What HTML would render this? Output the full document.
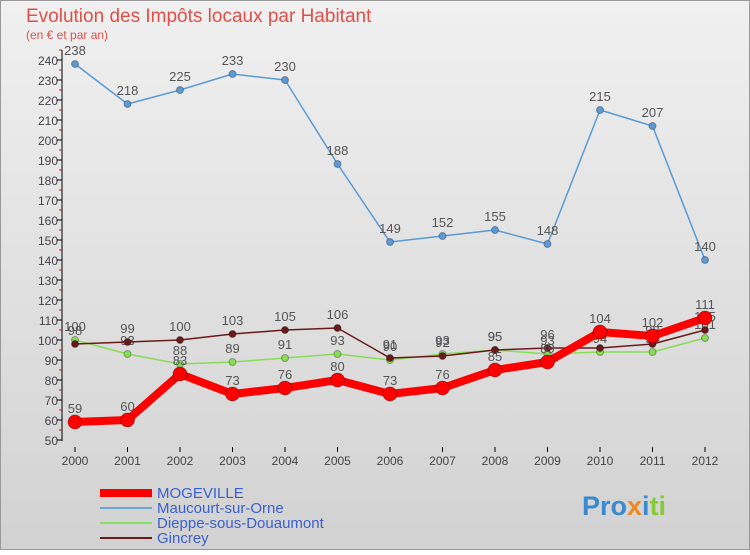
<!DOCTYPE html>
<html><head><meta charset="utf-8"><style>
body{margin:0;width:750px;height:550px;overflow:hidden;font-family:"Liberation Sans",sans-serif}
svg text{font-family:"Liberation Sans",sans-serif}
</style></head><body>
<svg id="c" width="750" height="550" xmlns="http://www.w3.org/2000/svg">
<defs><linearGradient id="bg" x1="0" y1="0" x2="0" y2="1"><stop offset="0" stop-color="#f0f0f0"/><stop offset="1" stop-color="#d2d2d2"/></linearGradient></defs>
<rect x="0.5" y="0.5" width="749" height="549" fill="url(#bg)" stroke="#999"/>
<text x="26" y="22" font-size="19" fill="#e0504a">Evolution des Impôts locaux par Habitant</text>
<text x="26" y="39" font-size="12" fill="#e0504a">(en € et par an)</text>
<g id="axes"></g><g id="series"></g>
<g>
<rect x="100" y="489" width="52" height="8" fill="#ff0000"/><text x="157" y="498" font-size="15" fill="#3a60d0">MOGEVILLE</text>
<line x1="100" y1="508" x2="152" y2="508" stroke="#6aa6d6" stroke-width="2"/><text x="157" y="513" font-size="15" fill="#3a60d0">Maucourt-sur-Orne</text>
<line x1="100" y1="523" x2="152" y2="523" stroke="#88dd66" stroke-width="2"/><text x="157" y="528" font-size="15" fill="#3a60d0">Dieppe-sous-Douaumont</text>
<line x1="100" y1="538" x2="152" y2="538" stroke="#6a1a1a" stroke-width="2"/><text x="157" y="543" font-size="15" fill="#3a60d0">Gincrey</text>
</g>
<text x="582" y="515" font-size="27" font-weight="bold" fill="#3a8ad0">Pro<tspan fill="#f08a20">x</tspan><tspan fill="#3a8ad0">i</tspan><tspan fill="#88cc33">ti</tspan></text>
</svg>
<script>
const years=[2000,2001,2002,2003,2004,2005,2006,2007,2008,2009,2010,2011,2012];
const mogeville=[59,60,83,73,76,80,73,76,85,89,104,102,111];
const maucourt=[238,218,225,233,230,188,149,152,155,148,215,207,140];
const dieppe=[100,93,88,89,91,93,90,93,95,93,94,94,101];
const gincrey=[98,99,100,103,105,106,91,92,95,96,96,98,105];
const yTicks=[50,60,70,80,90,100,110,120,130,140,150,160,170,180,190,200,210,220,230,240];
const NS="http://www.w3.org/2000/svg";
const X=i=>75+i*52.5, Y=v=>440-(v-50)*2;
function mk(t,a,p){const e=document.createElementNS(NS,t);for(const k in a)e.setAttribute(k,a[k]);p.appendChild(e);return e;}
const ax=document.getElementById('axes'), sg=document.getElementById('series');
mk('line',{x1:62,y1:50,x2:62,y2:441,stroke:'#000'},ax);
yTicks.forEach(v=>{const t=mk('text',{x:58,y:Y(v)+5,'font-size':12,'text-anchor':'end',fill:'#444'},ax);t.textContent=v;

mk('line',{x1:57,y1:Y(v),x2:62,y2:Y(v),stroke:'#000'},ax);mk('line',{x1:59,y1:Y(v+5),x2:62,y2:Y(v+5),stroke:'#e00'},ax);});
years.forEach((y,i)=>{mk('line',{x1:X(i),y1:447,x2:X(i),y2:452,stroke:'#000'},ax);
const t=mk('text',{x:X(i),y:465,'font-size':12,'text-anchor':'middle',fill:'#444'},ax);t.textContent=y;
});
function draw(name,d,col,w,r){const g=mk('g',{},sg);
mk('polyline',{points:d.map((v,i)=>X(i)+','+Y(v)).join(' '),fill:'none',stroke:col,'stroke-width':w,'stroke-linejoin':'round'},g);
d.forEach((v,i)=>{const c=mk('circle',{cx:X(i),cy:Y(v),r:r,fill:col,stroke:'rgba(0,0,0,0.3)'},g);
const t=mk('text',{x:X(i),y:Y(v)-9,'font-size':13,'text-anchor':'middle',fill:'#555'},g);t.textContent=v;});}
draw('dieppe',dieppe,'#88dd55',1.5,3.5);
draw('gincrey',gincrey,'#6a1a1a',1.5,3.5);
draw('maucourt',maucourt,'#5a9ad6',1.5,3.5);
draw('mogeville',mogeville,'#ff0000',8,7);
</script>
</body></html>
